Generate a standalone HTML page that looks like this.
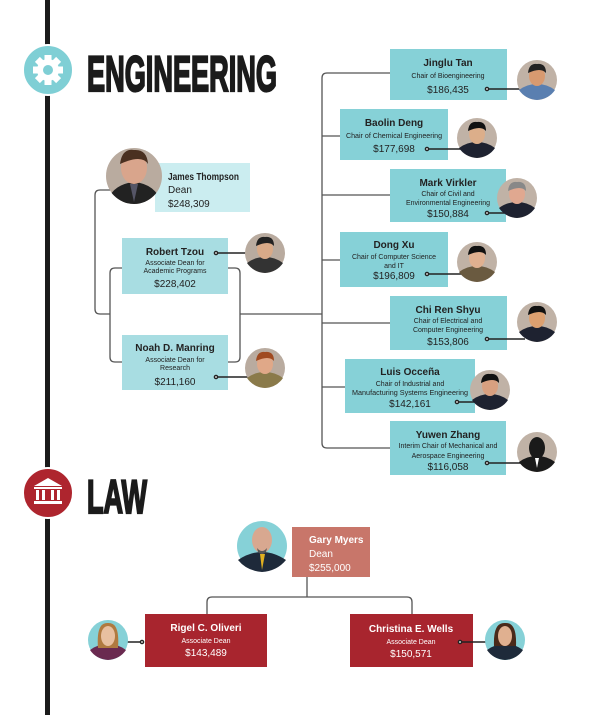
<!DOCTYPE html>
<html><head><meta charset="utf-8"><style>
html,body{margin:0;padding:0;background:#fff;}
svg{display:block;font-family:"Liberation Sans Narrow","Liberation Sans",sans-serif;}
.n{font-weight:bold;font-size:10px;fill:#222;}
.t{font-size:7px;fill:#222;}
.s{font-size:10px;fill:#222;}
.w{fill:#fff;}
</style></head><body>
<svg width="600" height="715" viewBox="0 0 600 715" xmlns="http://www.w3.org/2000/svg">
<rect x="45" y="0" width="5" height="715" fill="#1b1b1b"/>
<!-- gear -->
<circle cx="48" cy="70" r="25" fill="#7fcfd5" stroke="#fff" stroke-width="2"/>
<g transform="translate(48,70)" fill="#fff">
 <circle r="11"/>
 <g><rect x="-3.5" y="-15" width="7" height="30"/><rect x="-15" y="-3.5" width="30" height="7"/>
 <rect x="-3.5" y="-15" width="7" height="30" transform="rotate(45)"/><rect x="-3.5" y="-15" width="7" height="30" transform="rotate(-45)"/></g>
 <circle r="5" fill="#7fcfd5"/>
</g>
<text x="87" y="91" font-size="50" font-weight="bold" fill="#1b1b1b" stroke="#1b1b1b" stroke-width="2.2" textLength="190" lengthAdjust="spacingAndGlyphs">ENGINEERING</text>
<!-- law icon -->
<circle cx="48" cy="493" r="25" fill="#ae252e" stroke="#fff" stroke-width="2"/>
<g fill="#fff">
 <polygon points="34,486 48,478 62,486"/>
 <rect x="34" y="487" width="28" height="2"/>
 <rect x="36" y="490" width="3" height="10"/><rect x="42" y="490" width="3" height="10"/><rect x="51" y="490" width="3" height="10"/><rect x="57" y="490" width="3" height="10"/>
 <rect x="34" y="501" width="28" height="3"/>
</g>
<text x="87" y="513" font-size="47" font-weight="bold" fill="#1b1b1b" stroke="#1b1b1b" stroke-width="2.2" textLength="60" lengthAdjust="spacingAndGlyphs">LAW</text>

<!-- engineering connectors -->
<g fill="none" stroke="#555" stroke-width="1.3">
 <path d="M110,190 H100 Q95,190 95,195 V309 Q95,314 100,314 H110"/>
 <path d="M122,268 H115 Q110,268 110,273 V357 Q110,362 115,362 H122"/>
 <path d="M228,268 H235 Q240,268 240,273 V357 Q240,362 235,362 H228"/>
 <path d="M240,314 H322"/>
 <path d="M390,73 H327 Q322,73 322,78 V443 Q322,448 327,448 H390"/>
 <path d="M322,136 H340 M322,195 H390 M322,260 H340 M322,323 H390 M322,387 H345"/>
</g>
<!-- law connectors -->
<g fill="none" stroke="#555" stroke-width="1.3">
 <path d="M307,577 V597"/>
 <path d="M207,614 V602 Q207,597 212,597 H407 Q412,597 412,602 V614"/>
</g>

<!-- boxes -->
<rect x="155" y="163" width="95" height="49" fill="#cbedf0"/>
<rect x="122" y="238" width="106" height="56" fill="#a8dde2"/>
<rect x="122" y="335" width="106" height="55" fill="#a8dde2"/>
<g fill="#86d1d7">
<rect x="390" y="49" width="117" height="51"/>
<rect x="340" y="109" width="108" height="51"/>
<rect x="390" y="169" width="116" height="53"/>
<rect x="340" y="232" width="108" height="55"/>
<rect x="390" y="296" width="117" height="54"/>
<rect x="345" y="359" width="130" height="54"/>
<rect x="390" y="421" width="116" height="54"/>
</g>
<rect x="292" y="527" width="78" height="50" fill="#c8766a"/>
<rect x="145" y="614" width="122" height="53" fill="#a8252e"/>
<rect x="350" y="614" width="123" height="53" fill="#a8252e"/>

<!-- dot connectors -->
<g stroke="#222" stroke-width="1.4" fill="#fff">
 <line x1="216" y1="253" x2="250" y2="253"/><circle cx="216" cy="253" r="1.6"/>
 <line x1="216" y1="377" x2="250" y2="377"/><circle cx="216" cy="377" r="1.6"/>
 <line x1="487" y1="89" x2="525" y2="89"/><circle cx="487" cy="89" r="1.6"/>
 <line x1="427" y1="149" x2="465" y2="149"/><circle cx="427" cy="149" r="1.6"/>
 <line x1="487" y1="213" x2="505" y2="213"/><circle cx="487" cy="213" r="1.6"/>
 <line x1="427" y1="274" x2="465" y2="274"/><circle cx="427" cy="274" r="1.6"/>
 <line x1="487" y1="339" x2="525" y2="339"/><circle cx="487" cy="339" r="1.6"/>
 <line x1="457" y1="402" x2="480" y2="402"/><circle cx="457" cy="402" r="1.6"/>
 <line x1="487" y1="463" x2="525" y2="463"/><circle cx="487" cy="463" r="1.6"/>
 <line x1="110" y1="642" x2="142" y2="642"/><circle cx="142" cy="642" r="1.6"/>
 <line x1="460" y1="642" x2="495" y2="642"/><circle cx="460" cy="642" r="1.6"/>
</g>

<g transform="translate(134,176)"><circle r="28" fill="#b9ab9f"/><clipPath id="c1"><circle r="28"/></clipPath><g clip-path="url(#c1)"><path d="M-28,28 Q-22,8 0,6 Q22,8 28,28Z" fill="#222"/><ellipse cx="0" cy="-8" rx="13" ry="16" fill="#d9a58c"/><path d="M-14,-12 Q-12,-28 0,-26 Q13,-27 14,-12 Q8,-22 -14,-12Z" fill="#4a3020"/><path d="M-4,8 L0,26 L4,8Z" fill="#556"/></g></g>
<g>
 <g transform="translate(265,253)"><circle r="20" fill="#b9ab9f"/><path d="M-18,10 Q-10,4 0,4 Q10,4 18,10 Q12,19 0,20 Q-12,19 -18,10Z" fill="#333"/><ellipse cx="0" cy="-4" rx="8" ry="10" fill="#d9aa88"/><path d="M-9,-7 Q-8,-17 0,-16 Q9,-17 9,-7 Q4,-13 -9,-7Z" fill="#222"/></g>
 <g transform="translate(265,368)"><circle r="20" fill="#b9ab9f"/><path d="M-18,10 Q-10,4 0,4 Q10,4 18,10 Q12,19 0,20 Q-12,19 -18,10Z" fill="#8a7a4a"/><ellipse cx="0" cy="-4" rx="8" ry="10" fill="#e0a888"/><path d="M-9,-7 Q-8,-17 0,-16 Q9,-17 9,-7 Q4,-13 -9,-7Z" fill="#a04a20"/></g>
 <g transform="translate(537,80)"><circle r="20" fill="#c0b2a6"/><path d="M-18,10 Q-10,4 0,4 Q10,4 18,10 Q12,19 0,20 Q-12,19 -18,10Z" fill="#5a7fb0"/><ellipse cx="0" cy="-4" rx="8" ry="10" fill="#d89a70"/><path d="M-9,-7 Q-8,-17 0,-16 Q9,-17 9,-7 Q4,-13 -9,-7Z" fill="#222"/></g>
 <g transform="translate(477,138)"><circle r="20" fill="#c0b2a6"/><path d="M-18,10 Q-10,4 0,4 Q10,4 18,10 Q12,19 0,20 Q-12,19 -18,10Z" fill="#1e2230"/><ellipse cx="0" cy="-4" rx="8" ry="10" fill="#dcae8a"/><path d="M-9,-7 Q-8,-17 0,-16 Q9,-17 9,-7 Q4,-13 -9,-7Z" fill="#111"/></g>
 <g transform="translate(517,198)"><circle r="20" fill="#c0b2a6"/><path d="M-18,10 Q-10,4 0,4 Q10,4 18,10 Q12,19 0,20 Q-12,19 -18,10Z" fill="#1e2230"/><ellipse cx="0" cy="-4" rx="8" ry="10" fill="#e0a890"/><path d="M-9,-7 Q-8,-17 0,-16 Q9,-17 9,-7 Q4,-13 -9,-7Z" fill="#888"/></g>
 <g transform="translate(477,262)"><circle r="20" fill="#c0b2a6"/><path d="M-18,10 Q-10,4 0,4 Q10,4 18,10 Q12,19 0,20 Q-12,19 -18,10Z" fill="#6a5a40"/><ellipse cx="0" cy="-4" rx="8" ry="10" fill="#e0b090"/><path d="M-9,-7 Q-8,-17 0,-16 Q9,-17 9,-7 Q4,-13 -9,-7Z" fill="#111"/></g>
 <g transform="translate(537,322)"><circle r="20" fill="#c0b2a6"/><path d="M-18,10 Q-10,4 0,4 Q10,4 18,10 Q12,19 0,20 Q-12,19 -18,10Z" fill="#1e2230"/><ellipse cx="0" cy="-4" rx="8" ry="10" fill="#dca070"/><path d="M-9,-7 Q-8,-17 0,-16 Q9,-17 9,-7 Q4,-13 -9,-7Z" fill="#111"/></g>
 <g transform="translate(490,390)"><circle r="20" fill="#c0b2a6"/><path d="M-18,10 Q-10,4 0,4 Q10,4 18,10 Q12,19 0,20 Q-12,19 -18,10Z" fill="#1e2230"/><ellipse cx="0" cy="-4" rx="8" ry="10" fill="#d8a080"/><path d="M-9,-7 Q-8,-17 0,-16 Q9,-17 9,-7 Q4,-13 -9,-7Z" fill="#111"/></g>
 <g transform="translate(537,452)"><circle r="20" fill="#c0b2a6"/><path d="M-18,10 Q-10,4 0,4 Q10,4 18,10 Q12,19 0,20 Q-12,19 -18,10Z" fill="#1a1a1a"/><ellipse cx="0" cy="-4" rx="8" ry="11" fill="#1a1a1a"/><path d="M-2,6 L0,16 L2,6Z" fill="#fff"/></g>
 <g transform="translate(262,546)"><circle r="25" fill="#86d1d7"/><path d="M-24,14 Q-12,6 0,6 Q12,6 24,14 Q15,25 0,26 Q-15,25 -24,14Z" fill="#1e2a3a"/><ellipse cx="0" cy="-6" rx="10" ry="13" fill="#d8a890"/><path d="M-2,8 L0,24 L3,8Z" fill="#e0b020"/><path d="M-5,2 Q0,8 5,2 L4,6 Q0,10 -4,6Z" fill="#555"/></g>
 <g transform="translate(108,640)"><circle r="20" fill="#86d1d7"/><path d="M-18,10 Q-10,4 0,4 Q10,4 18,10 Q12,19 0,20 Q-12,19 -18,10Z" fill="#6a2a50"/><path d="M-10,8 Q-12,-18 0,-17 Q12,-18 10,8Z" fill="#b07a40"/><ellipse cx="0" cy="-4" rx="7" ry="10" fill="#e8c0a0"/></g>
 <g transform="translate(505,640)"><circle r="20" fill="#86d1d7"/><path d="M-18,10 Q-10,4 0,4 Q10,4 18,10 Q12,19 0,20 Q-12,19 -18,10Z" fill="#1e2a3a"/><path d="M-11,6 Q-12,-18 0,-17 Q12,-18 11,6Z" fill="#4a2a1a"/><ellipse cx="0" cy="-4" rx="7" ry="10" fill="#e0b090"/></g>
</g>

<!-- text -->
<text class="n" x="168" y="180" textLength="71" lengthAdjust="spacingAndGlyphs">James Thompson</text>
<text class="s" x="168" y="193" font-size="9">Dean</text>
<text class="s" x="168" y="207">$248,309</text>

<g text-anchor="middle">
<text class="n" x="175" y="255">Robert Tzou</text>
<text class="t" x="175" y="265">Associate Dean for</text>
<text class="t" x="175" y="273">Academic Programs</text>
<text class="s" x="175" y="287">$228,402</text>

<text class="n" x="175" y="351">Noah D. Manring</text>
<text class="t" x="175" y="362">Associate Dean for</text>
<text class="t" x="175" y="370">Research</text>
<text class="s" x="175" y="385">$211,160</text>

<text class="n" x="448" y="66">Jinglu Tan</text>
<text class="t" x="448" y="78">Chair of Bioengineering</text>
<text class="s" x="448" y="93">$186,435</text>

<text class="n" x="394" y="126">Baolin Deng</text>
<text class="t" x="394" y="138" textLength="96" lengthAdjust="spacingAndGlyphs">Chair of Chemical Engineering</text>
<text class="s" x="394" y="152">$177,698</text>

<text class="n" x="448" y="186">Mark Virkler</text>
<text class="t" x="448" y="196">Chair of Civil and</text>
<text class="t" x="448" y="205">Environmental Engineering</text>
<text class="s" x="448" y="217">$150,884</text>

<text class="n" x="394" y="248">Dong Xu</text>
<text class="t" x="394" y="259">Chair of Computer Science</text>
<text class="t" x="394" y="268">and IT</text>
<text class="s" x="394" y="279">$196,809</text>

<text class="n" x="448" y="313">Chi Ren Shyu</text>
<text class="t" x="448" y="323">Chair of Electrical and</text>
<text class="t" x="448" y="332">Computer Engineering</text>
<text class="s" x="448" y="345">$153,806</text>

<text class="n" x="410" y="375">Luis Occeña</text>
<text class="t" x="410" y="386">Chair of Industrial and</text>
<text class="t" x="410" y="395" textLength="116" lengthAdjust="spacingAndGlyphs">Manufacturing Systems Engineering</text>
<text class="s" x="410" y="407">$142,161</text>

<text class="n" x="448" y="438">Yuwen Zhang</text>
<text class="t" x="448" y="448">Interim Chair of Mechanical and</text>
<text class="t" x="448" y="458">Aerospace Engineering</text>
<text class="s" x="448" y="470">$116,058</text>

<text class="n w" x="206" y="631">Rigel C. Oliveri</text>
<text class="t w" x="206" y="643">Associate Dean</text>
<text class="s w" x="206" y="656">$143,489</text>

<text class="n w" x="411" y="632">Christina E. Wells</text>
<text class="t w" x="411" y="644">Associate Dean</text>
<text class="s w" x="411" y="657">$150,571</text>
</g>
<text class="n w" x="309" y="543">Gary Myers</text>
<text class="s w" x="309" y="557" font-size="9">Dean</text>
<text class="s w" x="309" y="571">$255,000</text>
</svg>
</body></html>
